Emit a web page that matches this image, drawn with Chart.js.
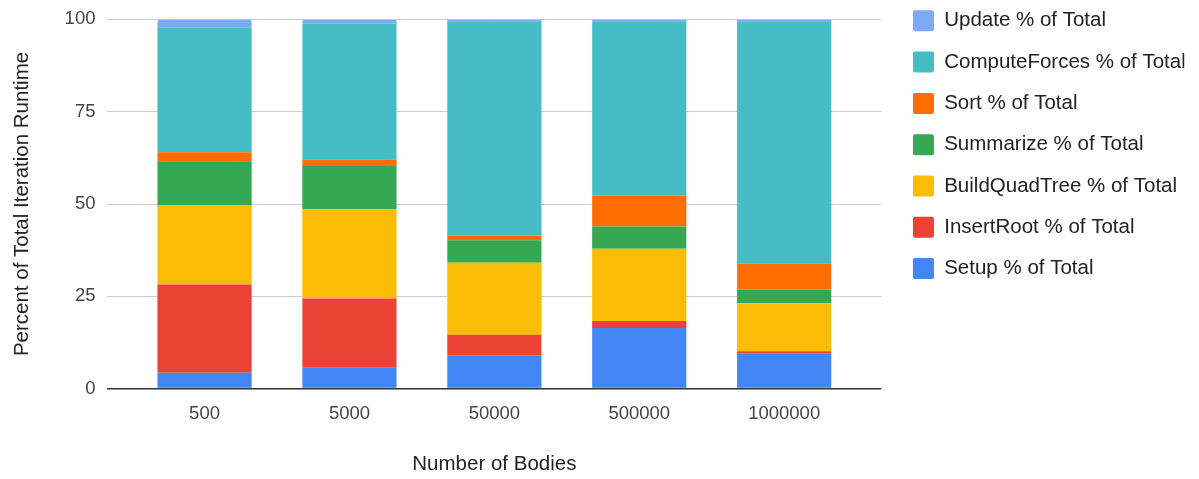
<!DOCTYPE html>
<html>
<head>
<meta charset="utf-8">
<script src="https://cdn.jsdelivr.net/npm/chart.js@4/dist/chart.umd.min.js"></script>
<style>
  html, body { margin: 0; padding: 0; background: #fff; }
  #wrap { width: 1199px; height: 479px; position: relative; }
</style>
</head>
<body>
<div id="wrap"><canvas id="c"></canvas></div>
<script>
// Share of one simulation iteration spent in each phase, by number of bodies
const categories = ['500', '5000', '50000', '500000', '1000000'];
const setup         = [4.3, 5.8, 9.0, 16.4, 9.6];
const insertRoot    = [23.9, 18.6, 5.6, 1.9, 0.5];
const buildQuadTree = [21.4, 24.2, 19.5, 19.6, 13.0];
const summarize     = [12.0, 11.7, 6.1, 6.0, 3.7];
const sortPhase     = [2.4, 1.8, 1.3, 8.4, 7.0];
const computeForces = [33.9, 36.8, 58.0, 47.2, 65.7];
const update        = [2.1, 1.1, 0.5, 0.5, 0.5];
const yTicks = [0, 25, 50, 75, 100];

const seriesNames = [
  'Setup % of Total', 'InsertRoot % of Total', 'BuildQuadTree % of Total',
  'Summarize % of Total', 'Sort % of Total', 'ComputeForces % of Total', 'Update % of Total'
];
const seriesValues = [setup, insertRoot, buildQuadTree, summarize, sortPhase, computeForces, update];
const seriesColors = ['#4285F4', '#EA4335', '#FBBC04', '#34A853', '#FF6D01', '#46BDC6', '#7BAAF7'];

Chart.defaults.font.family = "'Liberation Sans', Arial, sans-serif";

const datasets = seriesNames.map((name, s) => ({
  label: name,
  data: seriesValues[s].map((v, i) => ({ x: i, y: v })),
  backgroundColor: seriesColors[s],
  borderWidth: 0,
  borderRadius: s === seriesNames.length - 1 ? 3 : 0,
  barPercentage: 0.65,
  categoryPercentage: 1
}));

// Moves the legend block into the top-right corner after layout
const legendNudge = {
  id: 'legendNudge',
  afterLayout(chart) {
    const lg = chart.legend;
    if (!lg) return;
    const dx = 11.4;
    const dy = -10 - lg.top;
    lg.left += dx; lg.right += dx;
    lg.top += dy; lg.bottom += dy;
  }
};

new Chart(document.getElementById('c'), {
  type: 'bar',
  data: { datasets },
  plugins: [legendNudge],
  options: {
    responsive: true,
    maintainAspectRatio: false,
    animation: false,
    devicePixelRatio: 1,
    layout: { padding: { left: 6, top: 4, right: 26, bottom: 0 } },
    plugins: {
      tooltip: { enabled: false },
      legend: {
        position: 'right',
        align: 'start',
        reverse: true,
        labels: {
          boxWidth: 21,
          boxHeight: 21,
          padding: 20.3,
          useBorderRadius: true,
          borderRadius: 2,
          color: '#222',
          font: { size: 20.5 }
        }
      }
    },
    scales: {
      x: {
        type: 'linear',
        offset: false,
        stacked: true,
        min: -0.67,
        max: 4.67,
        afterBuildTicks: (scale) => { scale.ticks = categories.map((_, i) => ({ value: i })); },
        grid: { display: false, drawTicks: false },
        border: { display: false },
        ticks: {
          autoSkip: false,
          maxRotation: 0,
          padding: 14.5,
          color: '#444',
          font: { size: 18.5 },
          callback: (v) => categories[v]
        },
        title: {
          display: true,
          text: 'Number of Bodies',
          color: '#222',
          font: { size: 20.5 },
          padding: { top: 12.6, bottom: 2 }
        }
      },
      y: {
        stacked: true,
        min: 0,
        max: 100,
        afterBuildTicks: (scale) => { scale.ticks = yTicks.map(v => ({ value: v })); },
        grid: {
          drawTicks: false,
          color: (ctx) => ctx.tick && ctx.tick.value === 0 ? '#333' : '#ccc',
          lineWidth: (ctx) => ctx.tick && ctx.tick.value === 0 ? 1.5 : 1
        },
        border: { display: false },
        ticks: {
          padding: 12,
          color: '#444',
          font: { size: 18.5, lineHeight: 0.8 }
        },
        title: {
          display: true,
          text: 'Percent of Total Iteration Runtime',
          color: '#222',
          font: { size: 20.5 },
          padding: { top: 4, bottom: 18 }
        }
      }
    }
  }
});
</script>
</body>
</html>
